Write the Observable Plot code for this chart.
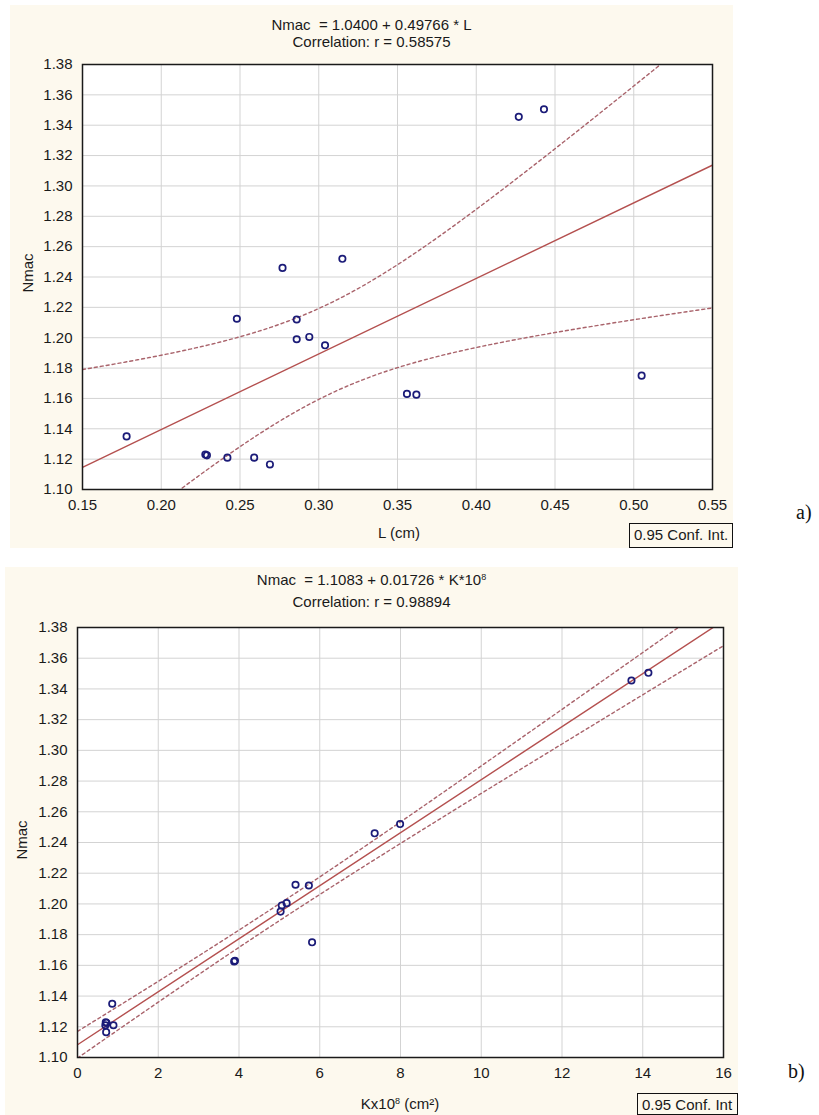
<!DOCTYPE html>
<html><head><meta charset="utf-8">
<script src="https://cdn.jsdelivr.net/npm/d3@7"></script>
<script src="https://cdn.jsdelivr.net/npm/@observablehq/plot@0.6"></script>
<style>
body{margin:0;background:#fff;width:819px;height:1115px;position:relative;overflow:hidden;font-family:"Liberation Sans",Arial,sans-serif;color:#1a1a1a;}
.panel{position:absolute;background:#fdf9ee;}
.panel svg{position:absolute;left:0;top:0;}
.t{position:absolute;left:0;right:0;text-align:center;font-size:15px;white-space:pre;line-height:15px;}
.t sup{font-size:9px;vertical-align:top;position:relative;top:-2px;}
.lab{position:absolute;font-size:15px;white-space:pre;line-height:15px;transform:translate(-50%,-50%);}
.lab sup{font-size:9px;vertical-align:top;position:relative;top:-2px;}
.ylab{position:absolute;font-size:15px;white-space:pre;line-height:15px;transform:translate(-50%,-50%) rotate(-90deg);}
.box{position:absolute;border:1px solid #111;background:#fdf9ee;font-size:15px;line-height:22px;padding:0 4px;box-sizing:border-box;white-space:pre;}
.tag{position:absolute;font-family:"Liberation Serif","Times New Roman",serif;font-size:20px;color:#111;line-height:20px;}
</style>
</head><body>
<div class="panel" id="pa" style="left:10px;top:5px;width:723px;height:543px;">
  <div class="t" style="top:12px;">Nmac  = 1.0400 + 0.49766 * L</div>
  <div class="t" style="top:29px;">Correlation: r = 0.58575</div>
  <div class="lab" style="left:389px;top:527px;">L (cm)</div>
  <div class="ylab" style="left:17px;top:268px;">Nmac</div>
  <div class="box" style="left:619px;top:518px;width:104px;height:25px;">0.95 Conf. Int.</div>
</div>
<div class="tag" style="left:796px;top:502px;">a)</div>
<div class="panel" id="pb" style="left:5px;top:567px;width:733px;height:548px;">
  <div class="t" style="top:5px;">Nmac  = 1.1083 + 0.01726 * K*10<sup>8</sup></div>
  <div class="t" style="top:27px;">Correlation: r = 0.98894</div>
  <div class="lab" style="left:395px;top:536px;">Kx10<sup>8</sup> (cm²)</div>
  <div class="ylab" style="left:16px;top:273px;">Nmac</div>
  <div class="box" style="left:632px;top:526px;width:101px;height:22px;">0.95 Conf. Int</div>
</div>
<div class="tag" style="left:788px;top:1061px;">b)</div>
<script>
// ---- data ----
const L    = [0.178, 0.228, 0.229, 0.242, 0.259, 0.269, 0.248, 0.286, 0.286, 0.294, 0.304, 0.277, 0.315, 0.356, 0.362, 0.427, 0.443, 0.505];
const K    = [0.86, 0.70, 0.72, 0.89, 0.69, 0.71, 5.40, 5.73, 5.06, 5.18, 5.03, 7.36, 7.99, 3.90, 3.88, 13.72, 14.14, 5.81];
const Nmac = [1.135, 1.123, 1.1225, 1.121, 1.121, 1.1165, 1.2125, 1.212, 1.199, 1.2005, 1.195, 1.246, 1.252, 1.163, 1.1625, 1.3455, 1.3505, 1.175];
const interceptA = 1.0400, slopeA = 0.49766;
const interceptB = 1.1083, slopeB = 0.01726;
const xTicksA = [0.15, 0.20, 0.25, 0.30, 0.35, 0.40, 0.45, 0.50, 0.55];
const xTicksB = [0, 2, 4, 6, 8, 10, 12, 14, 16];
const yTicks  = [1.10, 1.12, 1.14, 1.16, 1.18, 1.20, 1.22, 1.24, 1.26, 1.28, 1.30, 1.32, 1.34, 1.36, 1.38];
const T_CRIT = 2.12; // t(0.975, df = 16)

const FONT = '"Liberation Sans", Arial, sans-serif';
const LINE_COLOR = "#b4504f";
const BAND_COLOR = "#a9636b";
const DOT_COLOR = "#1b1b78";
const GRID = "#d3d3d3";

function band(xs, ys, a, b, domain, n = 160) {
  const N = xs.length, xbar = d3.mean(xs);
  const sxx = d3.sum(xs, x => (x - xbar) ** 2);
  const sse = d3.sum(xs, (x, i) => (ys[i] - (a + b * x)) ** 2);
  const s = Math.sqrt(sse / (N - 2));
  return d3.range(n + 1).map(i => {
    const x = domain[0] + (domain[1] - domain[0]) * i / n;
    const yh = a + b * x;
    const h = T_CRIT * s * Math.sqrt(1 / N + (x - xbar) ** 2 / sxx);
    return {x, lo: yh - h, hi: yh + h};
  });
}

function chart({xs, a, b, xDomain, xTicks, fmt, width, height, margins}) {
  const pts = xs.map((x, i) => ({x, y: Nmac[i]}));
  const bd = band(xs, Nmac, a, b, xDomain);
  const fit = xDomain.map(x => ({x, y: a + b * x}));
  return Plot.plot({
    width, height, ...margins,
    x: {domain: xDomain},
    y: {domain: [yTicks[0], yTicks[yTicks.length - 1]]},
    style: {background: "transparent", fontFamily: FONT, fontSize: "15px", color: "#1a1a1a", overflow: "visible"},
    marks: [
      Plot.frame({fill: "white"}),
      Plot.ruleX(xTicks, {stroke: GRID, strokeWidth: 1}),
      Plot.ruleY(yTicks, {stroke: GRID, strokeWidth: 1}),
      Plot.line(bd, {x: "x", y: "hi", stroke: BAND_COLOR, strokeWidth: 1.4, strokeDasharray: "3,3", clip: true}),
      Plot.line(bd, {x: "x", y: "lo", stroke: BAND_COLOR, strokeWidth: 1.4, strokeDasharray: "3,3", clip: true}),
      Plot.line(fit, {x: "x", y: "y", stroke: LINE_COLOR, strokeWidth: 1.4, clip: true}),
      Plot.dot(pts, {x: "x", y: "y", r: 3.2, stroke: DOT_COLOR, strokeWidth: 1.7, fill: "none"}),
      Plot.frame({stroke: "#1a1a1a", strokeWidth: 1.5}),
      Plot.axisX(xTicks, {tickSize: 0, tickPadding: 10, tickFormat: fmt, label: null}),
      Plot.axisY(yTicks, {tickSize: 0, tickPadding: 10, tickFormat: d => d.toFixed(2), label: null})
    ]
  });
}

document.getElementById("pa").prepend(chart({
  xs: L, a: interceptA, b: slopeA, xDomain: [0.15, 0.55], xTicks: xTicksA, fmt: d => d.toFixed(2),
  width: 723, height: 543,
  margins: {marginLeft: 72, marginRight: 21, marginTop: 59, marginBottom: 59}
}));
document.getElementById("pb").prepend(chart({
  xs: K, a: interceptB, b: slopeB, xDomain: [0, 16], xTicks: xTicksB, fmt: d => String(d),
  width: 733, height: 548,
  margins: {marginLeft: 72, marginRight: 15, marginTop: 60, marginBottom: 58}
}));
</script>
</body></html>
